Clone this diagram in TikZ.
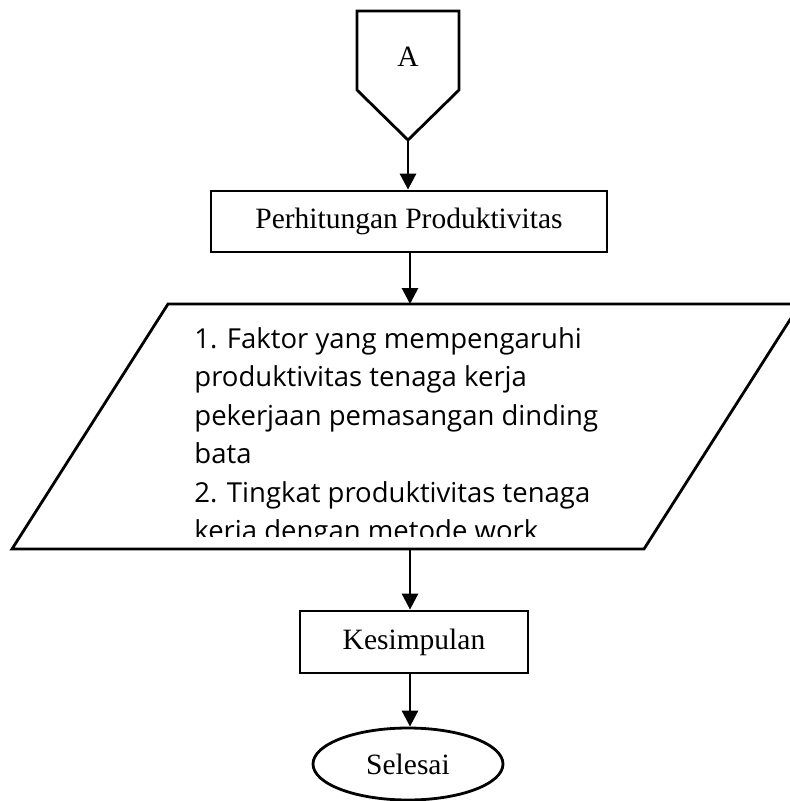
\documentclass[tikz,border=0pt]{standalone}
\usepackage{fontspec}
\setmainfont{Liberation Serif}
\newfontfamily\parafont{Open Sans}
\usetikzlibrary{arrows.meta,shapes.geometric}
\begin{document}
\begin{tikzpicture}[x=1pt,y=-1pt,
  line width=2.8pt,
  shp/.style={draw=black,line width=2.8pt,line join=miter},
  box/.style={shp,rectangle,inner sep=0pt,font=\fontsize{29.5}{34}\selectfont},
  term/.style={shp,ellipse,inner sep=0pt,font=\fontsize{29.5}{34}\selectfont},
  conn/.style={draw=black,line width=2.8pt,-{Triangle[length=16pt,width=16pt]}},
  paratext/.style={inner sep=0pt,anchor=north west,align=left,
    font=\parafont\fontsize{27.5}{38.5}\selectfont}]
\useasboundingbox (0,0) rectangle (790,801);
\fill[white] (0,0) rectangle (790,801);
% off-page connector A
\draw[shp] (357,11) -- (459,11) -- (459,90) -- (408,140) -- (357,90) -- cycle;
\node[font=\fontsize{29.5}{34}\selectfont,inner sep=0pt] (A) at (408,57) {A};
\coordinate (Atip) at (408,140);
% process box
\node[box,minimum width=396pt,minimum height=61pt] (hit) at (409,221.5) {Perhitungan Produktivitas};
% parallelogram
\coordinate (ptop) at (410,304);
\coordinate (pbot) at (410,549);
\begin{scope}
\clip (0,0) rectangle (790,801);
\draw[shp] (12,549) -- (644,549) -- (800,304) -- (168,304) -- cycle;
\end{scope}
\begin{scope}
\clip (150,310) rectangle (700,536);
\node[paratext] (ptext) at (193,320) {\strut 1. Faktor yang mempengaruhi\\
produktivitas tenaga kerja\\
pekerjaan pemasangan dinding\\
bata\\
2. Tingkat produktivitas tenaga\\
kerja dengan metode work};
\end{scope}
% conclusion box
\node[box,minimum width=228pt,minimum height=62pt] (kes) at (414,642) {Kesimpulan};
% terminator
\node[term,minimum width=190pt,minimum height=72pt] (sel) at (408,764) {Selesai};
% connectors
\draw[conn] (Atip) -- (Atip |- hit.north);
\draw[conn] (hit.south -| ptop) -- (ptop);
\draw[conn] (pbot) -- (pbot |- kes.north);
\draw[conn] (kes.south -| pbot) -- (sel.north -| pbot);
\end{tikzpicture}
\end{document}
